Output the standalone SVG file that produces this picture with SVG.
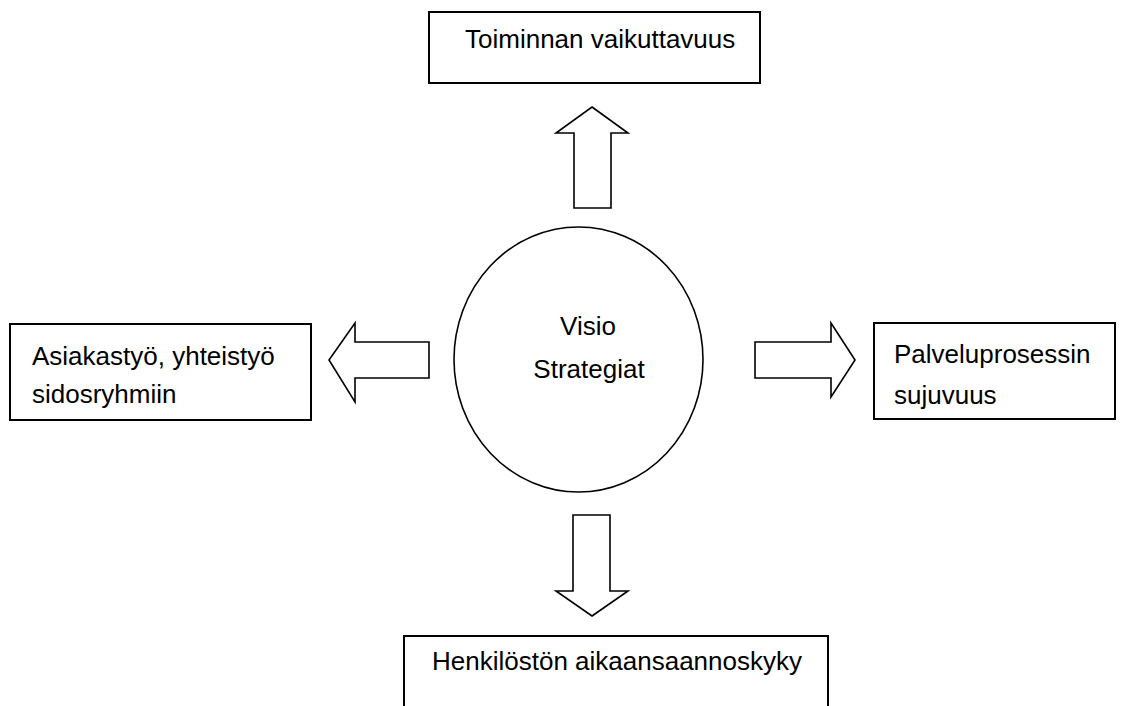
<svg xmlns="http://www.w3.org/2000/svg" width="1127" height="706" viewBox="0 0 1127 706">
  <style>
    .box { fill: #ffffff; stroke: #000000; stroke-width: 2; }
    .hub { fill: #ffffff; stroke: #000000; stroke-width: 1.6; }
    .arrow { fill: #ffffff; stroke: #000000; stroke-width: 1.6; stroke-linejoin: miter; }
    .label { font-family: "Liberation Sans", Arial, sans-serif; font-size: 26px; fill: #000000; }
  </style>
  <rect width="1127" height="706" fill="#ffffff"/>

  <!-- block arrows pointing out from the centre -->
  <g id="connectors">
    <polygon class="arrow" points="592,107 628,133 611,133 611,208 574,208 574,133 556,133"/>
    <polygon class="arrow" points="329,360 355,323 355,342 429,342 429,378 355,378 355,402"/>
    <polygon class="arrow" points="855,360 831,323 831,342 755,342 755,378 831,378 831,397"/>
    <polygon class="arrow" points="592,616 628,591 610,591 610,515 573,515 573,591 556,591"/>
  </g>

  <g id="hub">
    <ellipse class="hub" cx="578.5" cy="359.5" rx="124.5" ry="132.5"/>
    <text class="label" x="588" y="335" text-anchor="middle">Visio</text>
    <text class="label" x="589" y="378" text-anchor="middle">Strategiat</text>
  </g>

  <g id="node-top">
    <rect class="box" x="429" y="12" width="331" height="71"/>
    <text class="label" x="465" y="48">Toiminnan vaikuttavuus</text>
  </g>

  <g id="node-left">
    <rect class="box" x="10" y="324" width="301" height="96"/>
    <text class="label" x="32" y="365">Asiakastyö, yhteistyö</text>
    <text class="label" x="32" y="403">sidosryhmiin</text>
  </g>

  <g id="node-right">
    <rect class="box" x="874" y="323" width="241" height="96"/>
    <text class="label" x="894" y="363">Palveluprosessin</text>
    <text class="label" x="894" y="404">sujuvuus</text>
  </g>

  <g id="node-bottom">
    <path class="box" d="M404,710 V636 H828 V710"/>
    <text class="label" x="432" y="670">Henkilöstön aikaansaannoskyky</text>
  </g>
</svg>
